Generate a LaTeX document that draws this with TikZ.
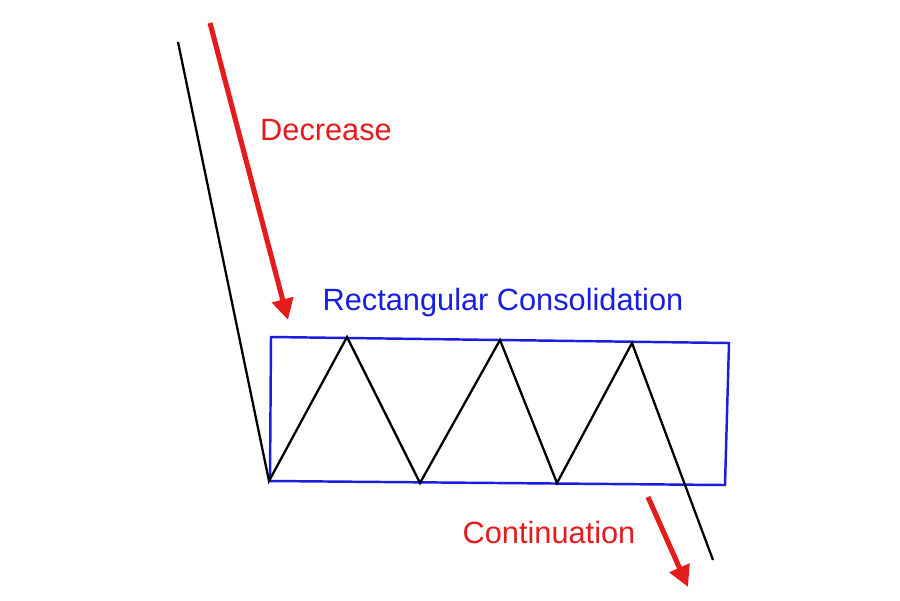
\documentclass[tikz,border=0pt]{standalone}
\usepackage{fontspec}
\setmainfont{Liberation Sans}
\usetikzlibrary{arrows.meta}
\definecolor{pfeilrot}{RGB}{228,28,28}
\definecolor{kastenblau}{RGB}{25,30,225}
\tikzset{
  kurs/.style={black, line width=1.3pt},
  kasten/.style={kastenblau, line width=1.4pt},
  pfeil/.style={pfeilrot, line width=2.9pt, -{Triangle[length=12pt,width=12pt]}},
  beschriftung/.style={font=\fontsize{17.5}{20}\selectfont, inner sep=0pt}
}
\begin{document}
\begin{tikzpicture}[x=0.02cm, y=-0.02cm]

              % Rahmen
              \useasboundingbox (0,0) rectangle (900,600);

              % Kurspunkte
              \coordinate (start) at (178,42);
              \coordinate (t1) at (269,481);
              \coordinate (h1) at (347,337);
              \coordinate (t2) at (420,483);
              \coordinate (h2) at (500,340);
              \coordinate (t3) at (557,483);
              \coordinate (h3) at (632,343);
              \coordinate (ende) at (713,560);

              % Konsolidierungsrechteck
              \draw[kasten] (271,337) -- (729,343) -- (725,485) -- (270,481) -- cycle;

              % Kursverlauf
              \draw[kurs] (start) -- (t1) -- (h1) -- (t2) -- (h2) -- (t3) -- (h3) -- (ende);

              % Pfeile
              \coordinate (abA) at (210,23);
              \coordinate (abB) at (288,320);
              \draw[pfeil] (abA) -- (abB);
              \coordinate (weiterA) at (648,497);
              \coordinate (weiterB) at (688,587);
              \draw[pfeil] (weiterA) -- (weiterB);

              % Beschriftungen
              \node[beschriftung, pfeilrot] (decrease) at (326,130) {Decrease};
              \node[beschriftung, kastenblau] (konsol) at (503,303) {Rectangular Consolidation};
              \node[beschriftung, pfeilrot] (continuation) at (549,532) {Continuation};

\end{tikzpicture}
\end{document}
